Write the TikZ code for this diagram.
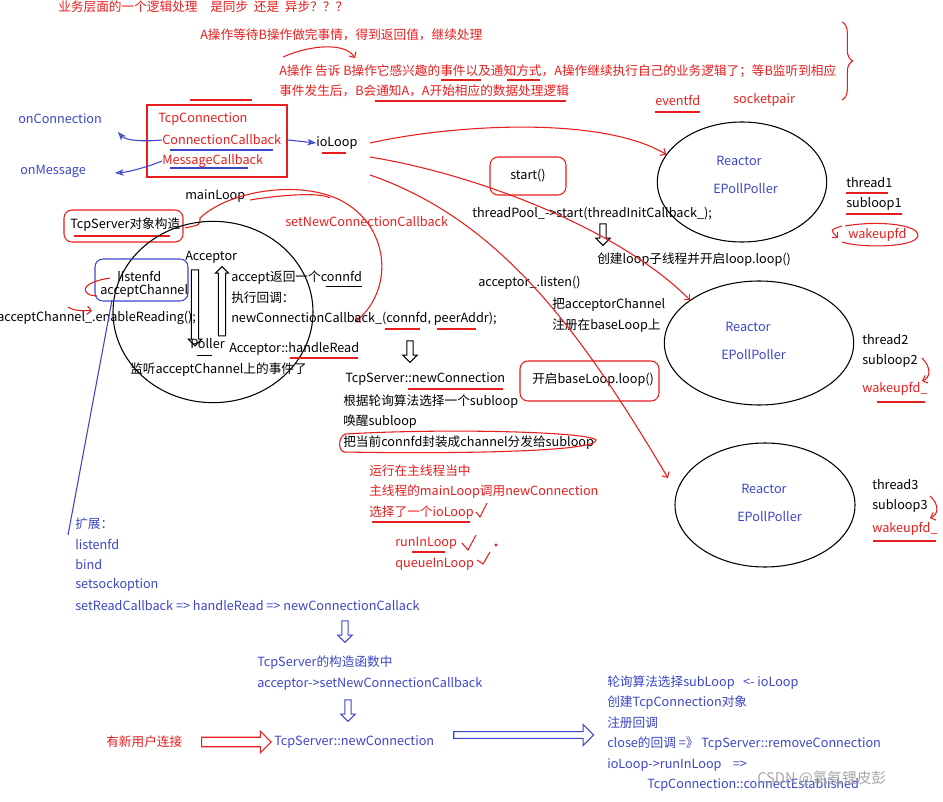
\documentclass[tikz,border=0pt]{standalone}
\usepackage{fontspec}
\setmainfont{Noto Sans CJK SC}
\usetikzlibrary{shapes.arrows,shapes.geometric,arrows.meta,decorations.pathreplacing}
\definecolor{rd}{RGB}{232,30,30}
\definecolor{bl}{RGB}{60,70,200}
\begin{document}
\begin{tikzpicture}[x=0.75pt,y=-0.75pt,
 t/.style={anchor=west,inner sep=0pt,font=\fontsize{9.5}{11}\selectfont},
 r/.style={t,text=rd}, b/.style={t,text=bl},
 rbox/.style={draw=rd,thick,rounded corners=6pt},
 rl/.style={draw=rd,thick},
 bla/.style={draw=bl,thick,-{Stealth[open]}},
 hol/.style={single arrow,draw,thick,minimum height=22pt,single arrow head extend=3pt,inner sep=2pt},
 hdown/.style={hol,shape border rotate=270,minimum height=16pt},
 ell/.style={ellipse,draw,thick,inner sep=0pt}]
\useasboundingbox (0,0) rectangle (943,802);
\fill[white] (0,0) rectangle (943,802);
% top notes
\node[r] (n1) at (58,7) {业务层面的一个逻辑处理\quad 是同步\ \ 还是\ \ 异步？？？};
\node[r] (n2) at (200,35) {A操作等待B操作做完事情，得到返回值，继续处理};
\coordinate (c1) at (283,57); \coordinate (c2) at (355,58);
\draw[rl,-{Straight Barb}] (c1) .. controls (310,45) and (345,42) .. (c2);
\node[r] (n3) at (279,71) {A操作 告诉 B操作它感兴趣的事件以及通知方式，A操作继续执行自己的业务逻辑了；等B监听到相应};
\node[r] (n4) at (279,91) {事件发生后，B会通知A，A开始相应的数据处理逻辑};
\draw[rl] (441,80)--(481,80) (507,80)--(540,80) (375,101)--(566,101);
\draw[rl,decorate,decoration={brace,amplitude=8pt}] (842,22) -- (842,100);
\node[r] (ev) at (655,100) {eventfd};
\node[r] (sp) at (733,100) {socketpair};
\draw[rl] (655,112)--(700,112);
% TcpConnection
\draw[rl] (147,105) rectangle (287,177);
\draw[rl] (190,100)--(252,100);
\node[r] (tc) at (158,119) {TcpConnection};
\node[r] (cc) at (162,140) {ConnectionCallback};
\node[r] (mc) at (162,161) {MessageCallback};
\draw[bl,thick] (170,150)--(273,150) (170,168)--(248,168);
\node[b] (oc) at (18,119) {onConnection};
\node[b] (om) at (20,171) {onMessage};
\coordinate (oca) at (118,132); \coordinate (oma) at (115,173);
\draw[bla] (cc.west) .. controls (140,142) and (125,140) .. (oca);
\draw[bla] (mc.west) .. controls (150,166) and (130,172) .. (oma);
\node[t] (io) at (316,143) {ioLoop};
\draw[bla] (288,140)--(io.west);
\draw[rl,line width=1.6pt] (322,153)--(346,153);
\node[t] (ml) at (185,196) {mainLoop};
% TcpServer box
\draw[rbox] (64,210) rectangle (183,242);
\node[t] (ts) at (70,225) {TcpServer对象构造};
\draw[rl] (74,236)--(170,236);
\node[r] (snc) at (285,222) {setNewConnectionCallback};
\coordinate (sa) at (355,322);
\draw[rl,-{Straight Barb}] (185,228) .. controls (200,225) .. (200,218) .. controls (230,190) and (300,180) .. (340,200) .. controls (390,225) and (395,290) .. (sa);
% circle
\node[ell,minimum width=150pt,minimum height=136pt] (cir) at (213,312) {};
\node[t] (ac) at (185,257) {Acceptor};
\draw[draw=bl,thick,rounded corners=6pt] (95,259) rectangle (188,301);
\node[t] (lf) at (117,276) {listenfd};
\node[t] (ach) at (100,291) {acceptChannel};
\node[t] (er) at (-3,318) {acceptChannel\_.enableReading();};
\draw[rl] (110,278) .. controls (85,282) and (80,290) .. (90,295) -- (97,296);
\draw[rl,-{Straight Barb}] (68,307) .. controls (75,312) and (85,310) .. (92,311);
\node[hdown,minimum height=57pt,minimum width=10pt,single arrow head extend=2pt] (d1) at (195,306) {};
\node[hol,shape border rotate=90,minimum height=52pt,minimum width=10pt,single arrow head extend=2pt] (u1) at (222,303) {};
\node[t] (po) at (190,344) {Poller};
\draw (197,355)--(212,355);
\node[t] (hr) at (229,349) {Acceptor::handleRead};
\draw[rl] (290,358)--(358,358);
\node[t] (ar) at (231,278) {accept返回一个connfd};
\draw (326,286)--(362,286);
\node[t] (zx) at (231,298) {执行回调：};
\node[t] (nc) at (231,319) {newConnectionCallback\_(connfd, peerAddr);};
\draw[rl] (385,329)--(420,329) (437,329)--(476,329);
\node[t] (jt) at (130,370) {监听acceptChannel上的事件了};
\node[hdown] (d2) at (410,350) {};
% newConnection block
\node[t] (tn) at (345,379) {TcpServer::newConnection};
\draw[rl] (408,389)--(503,389);
\node[t] (l1) at (343,402) {根据轮询算法选择一个subloop};
\node[t] (l2) at (343,422) {唤醒subloop};
\node[t] (l3) at (343,443) {把当前connfd封装成channel分发给subloop};
\draw[rl] (345,434) .. controls (450,428) and (590,432) .. (596,440) .. controls (598,452) and (450,454) .. (344,452) .. controls (338,450) and (338,438) .. (345,434);
\node[r] (r1) at (369,471) {运行在主线程当中};
\node[r] (r2) at (369,492) {主线程的mainLoop调用newConnection};
\node[r] (r3) at (369,513) {选择了一个ioLoop};
\draw[rl] (372,522)--(470,522);
\draw[rl] (476,512)--(480,517)--(487,503);
\node[r] (r4) at (395,543) {runInLoop};
\draw[rl] (412,552)--(445,552);
\draw[rl] (462,543)--(468,550)--(476,535);
\node[r] (r5) at (395,564) {queueInLoop};
\draw[rl] (477,560)--(483,564)--(490,552);
\fill[rl] (496,545) circle (0.8);
% start etc.
\draw[rbox] (490,157) rectangle (566,195);
\node[t] (st) at (510,176) {start()};
\node[t] (tp) at (472,214) {threadPool\_->start(threadInitCallback\_);};
\node[hdown] (d3) at (603,233) {};
\node[t] (cj) at (597,260) {创建loop子线程并开启loop.loop()};
\node[t] (al) at (478,283) {acceptor\_.listen()};
\node[t] (ba1) at (552,305) {把acceptorChannel};
\node[t] (ba2) at (552,326) {注册在baseLoop上};
\draw[rbox] (520,361) rectangle (659,401);
\node[t] (kb) at (532,380) {开启baseLoop.loop()};
% Reactors
\node[ell,minimum width=127pt,minimum height=90pt] (R1) at (742,182) {};
\node[b] (re1) at (716,161) {Reactor}; \node[b] (ep1) at (713,189) {EPollPoller};
\node[ell,minimum width=142pt,minimum height=93pt] (R2) at (759,343) {};
\node[b] (re2) at (725,327) {Reactor}; \node[b] (ep2) at (721,355) {EPollPoller};
\node[ell,minimum width=135pt,minimum height=93pt] (R3) at (765,505) {};
\node[b] (re3) at (741,489) {Reactor}; \node[b] (ep3) at (737,517) {EPollPoller};
\node[t] (t1) at (846,183) {thread1}; \node[t] (s1) at (846,204) {subloop1};
\node[r] (w1) at (848,235) {wakeupfd};
\draw[rl] (846,193)--(888,193) (846,214)--(902,214);
\draw[rl] (845,226) .. controls (880,220) and (920,225) .. (918,236) .. controls (915,248) and (860,248) .. (842,242);
\draw[rl,-{Straight Barb}] (842,226) .. controls (830,230) .. (838,238);
\node[t] (t2) at (862,340) {thread2}; \node[t] (s2) at (862,361) {subloop2};
\node[r] (w2) at (862,389) {wakeupfd\_};
\draw[rl] (877,402)--(925,402);
\draw[rl,-{Straight Barb}] (922,358) .. controls (932,368) and (930,378) .. (922,381);
\node[t] (t3) at (872,485) {thread3}; \node[t] (s3) at (872,506) {subloop3};
\node[r] (w3) at (872,529) {wakeupfd\_};
\draw[rl] (873,541)--(936,541);
\draw[rl,-{Straight Barb}] (930,496) .. controls (940,505) and (938,515) .. (930,518);
% red curves from ioLoop
\draw[rl,-{Straight Barb}] (370,143) .. controls (450,125) and (600,115) .. (R1.160);
\draw[rl,-{Straight Barb}] (370,157) .. controls (480,175) and (620,230) .. (690,300);
\draw[rl,-{Straight Barb}] (370,175) .. controls (500,220) and (580,330) .. (668,478);
\draw[rl] (250,200) .. controls (280,195) and (320,192) .. (330,198);
% blue extension
\draw[bl,thick] (112,300)--(68,535);
\node[b] (e0) at (75,524) {扩展：};
\node[b] (e1) at (75,544) {listenfd};
\node[b] (e2) at (75,565) {bind};
\node[b] (e3) at (75,585) {setsockoption};
\node[b] (e4) at (75,606) {setReadCallback => handleRead => newConnectionCallack};
\node[hdown,draw=bl] (d4) at (345,630) {};
\node[b] (c1t) at (257,663) {TcpServer的构造函数中};
\node[b] (c2t) at (257,684) {acceptor->setNewConnectionCallback};
\node[hdown,draw=bl] (d5) at (348,709) {};
\node[r] (xu) at (106,742) {有新用户连接};
\node[hol,draw=rd,minimum height=52pt,minimum width=16pt] (ha1) at (234,742) {};
\node[b] (tn2) at (274,742) {TcpServer::newConnection};
\node[hol,draw=bl,minimum height=105pt,minimum width=16pt,single arrow head extend=5pt] (ha2) at (522,735) {};
\node[b] (q1) at (607,683) {轮询算法选择subLoop\ \ \ <- ioLoop};
\node[b] (q2) at (607,703) {创建TcpConnection对象};
\node[b] (q3) at (607,723) {注册回调};
\node[b] (q4) at (607,744) {close的回调 =》 TcpServer::removeConnection};
\node[b] (q5) at (607,765) {ioLoop->runInLoop\ \ \ \ =>};
\node[b] (q6) at (647,785) {TcpConnection::connectEstablished};
\node[t,text=gray!70,font=\fontsize{11}{13}\selectfont] (wm) at (757,779) {CSDN @氯氦锂皮彭};
\end{tikzpicture}
\end{document}
